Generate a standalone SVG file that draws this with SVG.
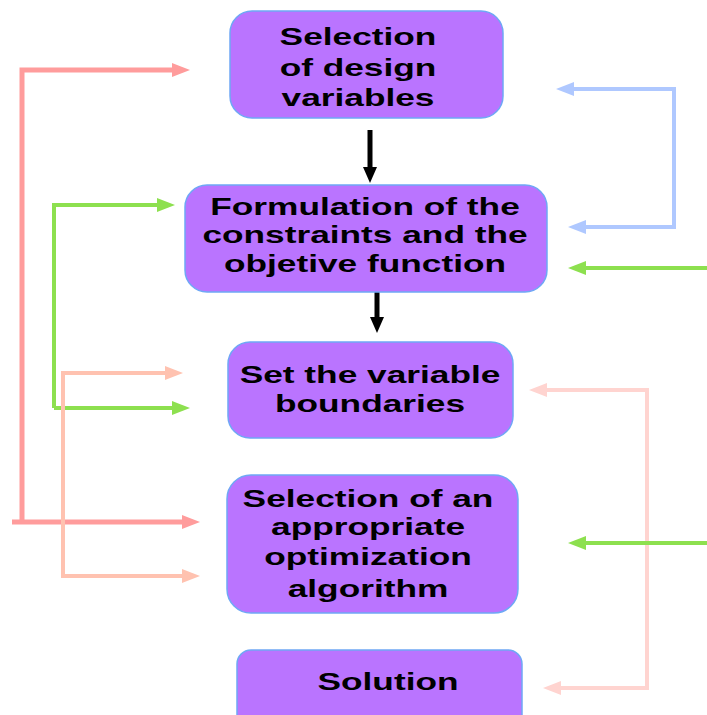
<svg xmlns="http://www.w3.org/2000/svg" width="707" height="715" viewBox="0 0 707 715">
<style>
.box{fill:#BA74FF;stroke:#6FA8F5;stroke-width:1.5}
.t{font-family:"Liberation Sans",Arial,sans-serif;font-weight:bold;font-size:24px;fill:#000;text-anchor:middle}
.c{fill:none;stroke-linejoin:miter}
</style>
<defs>
<marker id="mk" markerUnits="userSpaceOnUse" markerWidth="16" markerHeight="14" refX="4" refY="7" orient="auto"><path d="M0,0 L16,7 L0,14 z" fill="#000"/></marker>
<marker id="mr" markerUnits="userSpaceOnUse" markerWidth="18" markerHeight="14" refX="4" refY="7" orient="auto"><path d="M0,0 L18,7 L0,14 z" fill="#FF9C9C"/></marker>
<marker id="mg" markerUnits="userSpaceOnUse" markerWidth="18" markerHeight="14" refX="4" refY="7" orient="auto"><path d="M0,0 L18,7 L0,14 z" fill="#8DE04F"/></marker>
<marker id="ms" markerUnits="userSpaceOnUse" markerWidth="18" markerHeight="14" refX="4" refY="7" orient="auto"><path d="M0,0 L18,7 L0,14 z" fill="#FFC2B0"/></marker>
<marker id="mb" markerUnits="userSpaceOnUse" markerWidth="18" markerHeight="14" refX="4" refY="7" orient="auto"><path d="M0,0 L18,7 L0,14 z" fill="#AFC8FF"/></marker>
<marker id="mp" markerUnits="userSpaceOnUse" markerWidth="18" markerHeight="14" refX="4" refY="7" orient="auto"><path d="M0,0 L18,7 L0,14 z" fill="#FFD4D0"/></marker>
</defs>
<rect width="707" height="715" fill="#fff"/>
<g id="connectors">
<path class="c" d="M370,130 V171" stroke="#000" stroke-width="5" marker-end="url(#mk)"/>
<path class="c" d="M377,292 V321" stroke="#000" stroke-width="5" marker-end="url(#mk)"/>
<path class="c" d="M22,522 V70 H176" stroke="#FF9C9C" stroke-width="5" marker-end="url(#mr)"/>
<path class="c" d="M12,522 H186" stroke="#FF9C9C" stroke-width="5" marker-end="url(#mr)"/>
<path class="c" d="M54,408 V205 H161" stroke="#8DE04F" stroke-width="4" marker-end="url(#mg)"/>
<path class="c" d="M54,408 H176" stroke="#8DE04F" stroke-width="4" marker-end="url(#mg)"/>
<path class="c" d="M169,373 H63 V576 H186" stroke="#FFC2B0" stroke-width="4" marker-end="url(#ms)"/>
<path class="c" d="M63,373 H169" stroke="#FFC2B0" stroke-width="4" marker-end="url(#ms)"/>
<path class="c" d="M582,227 H674 V89 H570" stroke="#AFC8FF" stroke-width="4" marker-end="url(#mb)"/>
<path class="c" d="M674,227 H582" stroke="#AFC8FF" stroke-width="4" marker-end="url(#mb)"/>
<path class="c" d="M707,268 H582" stroke="#8DE04F" stroke-width="4" marker-end="url(#mg)"/>
<path class="c" d="M557,688 H647 V390 H543" stroke="#FFD4D0" stroke-width="4" marker-end="url(#mp)"/>
<path class="c" d="M647,688 H557" stroke="#FFD4D0" stroke-width="4" marker-end="url(#mp)"/>
<path class="c" d="M707,543 H582" stroke="#8DE04F" stroke-width="4" marker-end="url(#mg)"/>
</g>
<g id="n1">
<rect class="box" x="230" y="11" width="273" height="107" rx="22"/>
<g transform="translate(358,0) scale(1.47,1)">
<text class="t" x="0" y="45">Selection</text>
<text class="t" x="0" y="76">of design</text>
<text class="t" x="0" y="106">variables</text>
</g>
</g>
<g id="n2">
<rect class="box" x="185" y="185" width="362" height="107" rx="22"/>
<g transform="translate(365,0) scale(1.47,1)">
<text class="t" x="0" y="215">Formulation of the</text>
<text class="t" x="0" y="243">constraints and the</text>
<text class="t" x="0" y="272">objetive function</text>
</g>
</g>
<g id="n3">
<rect class="box" x="228" y="342" width="285" height="96" rx="22"/>
<g transform="translate(370,0) scale(1.47,1)">
<text class="t" x="0" y="383">Set the variable</text>
<text class="t" x="0" y="412">boundaries</text>
</g>
</g>
<g id="n4">
<rect class="box" x="227" y="475" width="291" height="138" rx="24"/>
<g transform="translate(368,0) scale(1.47,1)">
<text class="t" x="0" y="507">Selection of an</text>
<text class="t" x="0" y="535">appropriate</text>
<text class="t" x="0" y="565">optimization</text>
<text class="t" x="0" y="597">algorithm</text>
</g>
</g>
<g id="n5">
<rect class="box" x="237" y="650" width="285" height="80" rx="14"/>
<g transform="translate(388,0) scale(1.47,1)">
<text class="t" x="0" y="690">Solution</text>
</g>
</g>
</svg>
